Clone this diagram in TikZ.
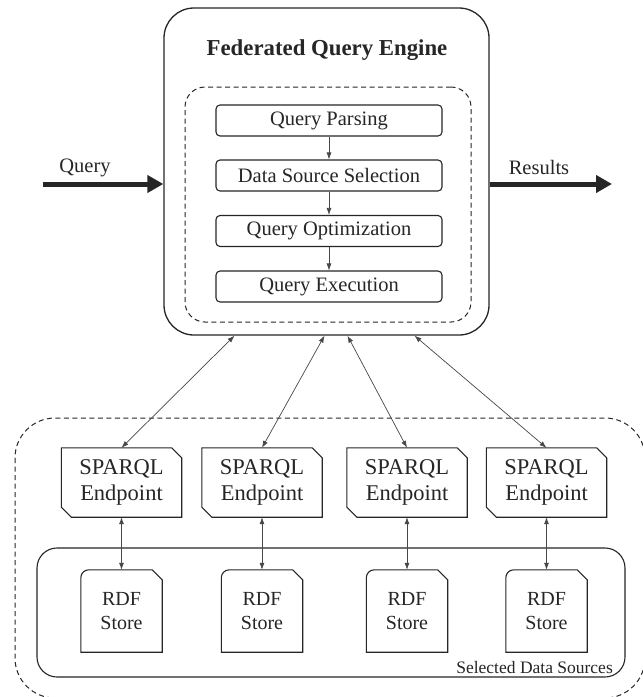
\documentclass[tikz,border=0pt]{standalone}
\usepackage{fontspec}
\setmainfont{Liberation Serif}
\usetikzlibrary{arrows.meta,calc}
\definecolor{ink}{HTML}{262626}
\begin{document}
\begin{tikzpicture}[x=1pt,y=-1pt,
  ln/.style={draw=ink,line width=1.1pt},
  dsh/.style={draw=ink,line width=1pt,dash pattern=on 5pt off 3.5pt},
  procbox/.style={ln,rounded corners=4pt,minimum width=226pt,minimum height=31pt,inner sep=0pt,
     font=\fontsize{20.5}{24}\selectfont,text=ink},
  shapebox/.style={inner sep=0pt,align=center,text=ink},
  thin/.style={draw=ink!85,line width=0.7pt,{Latex[length=7pt,width=5pt]}-{Latex[length=7pt,width=5pt]}},
  down/.style={draw=ink!85,line width=0.7pt,-{Latex[length=7pt,width=5pt]}},
  big/.style={draw=ink,line width=5pt,-{Triangle[length=16pt,width=17pt]}},
  lbl/.style={text=ink,font=\fontsize{20.5}{24}\selectfont,inner sep=0pt}
]
\useasboundingbox (0,0) rectangle (643,697);
\fill[white] (0,0) rectangle (643,697);

% outer dashed region (partly clipped)
\begin{scope}
\clip (0,0) rectangle (643,697);
\draw[dsh,rounded corners=40pt] (15,418) rectangle (645,698);
\end{scope}
\draw[ln,rounded corners=20pt] (37,548) rectangle (625,677);
\node[lbl,font=\fontsize{17.5}{20}\selectfont,anchor=east] (sel) at (613,668) {Selected Data Sources};

% engine
\node[ln,line width=1.3pt,rounded corners=30pt,minimum width=325pt,minimum height=327pt,inner sep=0pt] (eng) at (326.5,171.5) {};
\node[lbl,font=\fontsize{22.8}{26}\selectfont\bfseries] (title) at (327,50) {Federated Query Engine};
\node[dsh,rounded corners=20pt,minimum width=286pt,minimum height=235pt,inner sep=0pt] (inner) at (328,204.5) {};

\node[procbox] (p1) at (329,120.5) {Query Parsing};
\node[procbox] (p2) at (329,175.5) {Data Source Selection};
\node[procbox] (p3) at (329,231) {Query Optimization};
\node[procbox] (p4) at (329,286.5) {Query Execution};
\draw[down] (p1) -- (p2);
\draw[down] (p2) -- (p3);
\draw[down] (p3) -- (p4);

% input / output
\coordinate (qin) at (43,184);
\coordinate (rout) at (612,184);
\draw[big] (qin) -- (qin -| eng.west);
\draw[big] (rout -| eng.east) -- (rout);
\node[lbl] (qlbl) at (85,168) {Query};
\node[lbl] (rlbl) at (539,167) {Results};

% SPARQL endpoints and RDF stores
\foreach \n/\x in {1/121.5,2/262,3/407,4/546.5}{
  \node[shapebox,minimum width=120pt,minimum height=69pt,font=\fontsize{22.5}{26}\selectfont] (s\n) at (\x,482.5) {SPARQL\\Endpoint};
  \draw[ln] (s\n.north west) -- ([xshift=-10pt]s\n.north east) -- ([yshift=-10pt]s\n.north east)
     -- (s\n.south east) -- ([xshift=10pt]s\n.south west) -- ([yshift=10pt]s\n.south west) -- cycle;
  \node[shapebox,minimum width=81pt,minimum height=82pt,font=\fontsize{20}{24}\selectfont] (r\n) at (\x,611) {RDF\\Store};
  \draw[ln] ([yshift=-8pt]r\n.north west) arc[start angle=180,end angle=90,radius=8pt]
     -- ([xshift=-10pt]r\n.north east) -- ([yshift=-10pt]r\n.north east)
     -- (r\n.south east) -- (r\n.south west) -- cycle;
  \draw[thin] (s\n.south) -- (r\n.north);
}
\draw[thin] (s1.north) -- ([xshift=-92pt]eng.south);
\draw[thin] (s2.north) -- ([xshift=-2pt]eng.south);
\draw[thin] (s3.north) -- ([xshift=21pt]eng.south);
\draw[thin] (s4.north) -- ([xshift=88pt]eng.south);
\end{tikzpicture}
\end{document}
